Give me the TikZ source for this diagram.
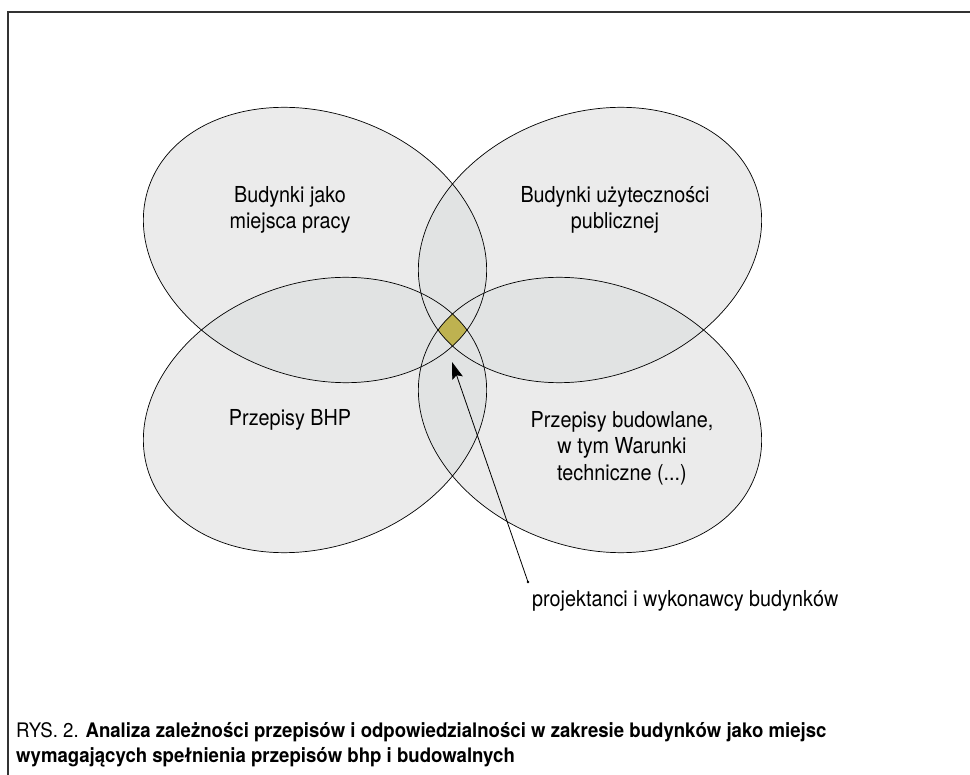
\documentclass[tikz,border=0pt]{standalone}
\usepackage{fontspec}
\setmainfont{TeX Gyre Heros}[FakeStretch=0.9]
\newfontfamily\capfont{TeX Gyre Heros}[FakeStretch=0.93]
\usetikzlibrary{arrows.meta}
\definecolor{vsingle}{RGB}{235,235,235}
\definecolor{vdouble}{RGB}{225,227,227}
\definecolor{volive}{RGB}{190,178,80}
\newcommand\VenA[2]{#1[#2,rotate around={-19.6:(315,245)}] (315,245) ellipse [x radius=176pt,y radius=132pt];}
\newcommand\VenB[2]{#1[#2,rotate around={19.6:(590,245)}] (590,245) ellipse [x radius=176pt,y radius=132pt];}
\newcommand\VenC[2]{#1[#2,rotate around={19.6:(315,415)}] (315,415) ellipse [x radius=176pt,y radius=132pt];}
\newcommand\VenD[2]{#1[#2,rotate around={-19.6:(590,415)}] (590,415) ellipse [x radius=176pt,y radius=132pt];}
\newcommand\VenPair[2]{\begin{scope}#1{\clip}{}#2{\fill}{vdouble}\end{scope}}
\tikzset{
  outl/.style={draw=black,line width=0.7pt},
  lbl/.style={align=center,inner sep=0pt,font=\fontsize{22}{26.5}\selectfont},
  captxt/.style={anchor=base west,inner sep=0pt,font=\capfont\fontsize{20}{24}\selectfont},
  arr/.style={line width=0.8pt,-{Stealth[length=17pt,width=11pt,inset=3pt]}}
}
\begin{document}
\begin{tikzpicture}[x=1pt,y=-1pt]
\useasboundingbox (0,0) rectangle (970,775);
\fill[white] (0,0) rectangle (970,775);
\draw[line width=1.4pt,black!80] (8,775) -- (8,12) -- (970,12);
% single fills
\VenA{\fill}{vsingle}
\VenB{\fill}{vsingle}
\VenC{\fill}{vsingle}
\VenD{\fill}{vsingle}
% pairwise overlaps
\VenPair\VenA\VenB
\VenPair\VenA\VenC
\VenPair\VenA\VenD
\VenPair\VenB\VenC
\VenPair\VenB\VenD
\VenPair\VenC\VenD
% four-way overlap
\begin{scope}
\VenA{\clip}{}
\VenB{\clip}{}
\VenC{\clip}{}
\VenD{\fill}{volive}
\end{scope}
% outlines
\VenA{\draw}{outl}
\VenB{\draw}{outl}
\VenC{\draw}{outl}
\VenD{\draw}{outl}
% labels
\node[lbl] (t1) at (290,210) {Budynki jako\\miejsca pracy};
\node[lbl] (t2) at (615,210) {Budynki użyteczności\\publicznej};
\node[lbl] (t3) at (290,420) {Przepisy BHP};
\node[lbl] (t4) at (622,448) {Przepisy budowlane,\\w tym Warunki\\techniczne (...)};
\node[lbl,anchor=base west] (t5) at (532,606) {projektanci i wykonawcy budynków};
% arrow
\coordinate (s) at (528,582);
\coordinate (tip) at (452,362);
\draw[arr] (s) -- (tip);
\fill (s) circle (1.3pt);
% caption
\node[captxt] (c1) at (16,737) {RYS. 2. \textbf{Analiza zależności przepisów i odpowiedzialności w zakresie budynków jako miejsc}};
\node[captxt] (c2) at (16,762) {\textbf{wymagających spełnienia przepisów bhp i budowalnych}};
\end{tikzpicture}
\end{document}
